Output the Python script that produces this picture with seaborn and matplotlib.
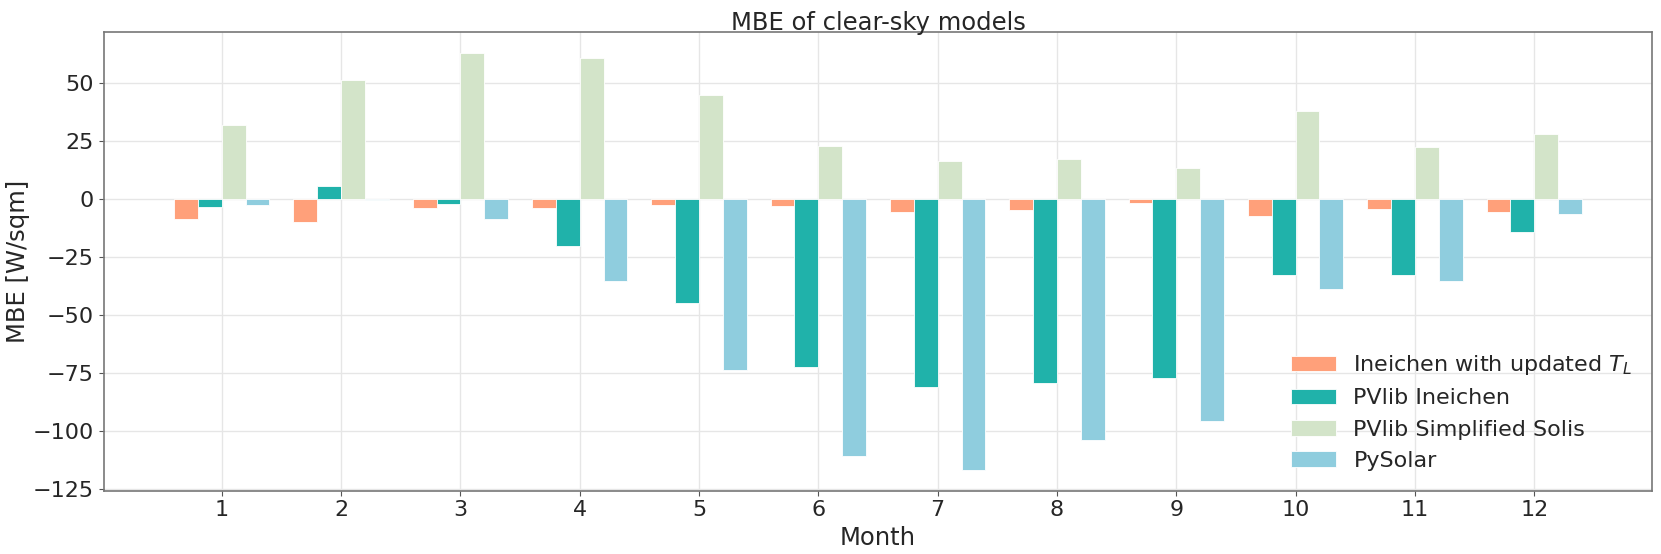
import numpy as np
import pandas as pd
import matplotlib
matplotlib.use("Agg")
import matplotlib.pyplot as plt
import seaborn as sns

months = list(range(1, 13))
ineichen_updated = [-8.6, -9.8, -4.0, -3.7, -2.7, -3.0, -5.5, -4.8, -1.9, -7.2, -4.2, -5.5]
pvlib_ineichen = [-3.5, 5.5, -2.3, -20.2, -44.7, -72.4, -81.3, -79.5, -77.1, -32.6, -32.6, -14.1]
pvlib_solis = [32.1, 51.4, 63.1, 60.8, 44.8, 22.9, 16.4, 17.1, 13.3, 38.2, 22.6, 28.2]
pysolar = [-2.6, -0.2, -8.6, -35.4, -73.8, -110.8, -117.0, -103.9, -96.0, -38.9, -35.4, -6.3]

model_names = [r"Ineichen with updated $T_L$", "PVlib Ineichen",
               "PVlib Simplified Solis", "PySolar"]
colors = ["#FFA07A", "#20B2AA", "#D3E4C9", "#8FCDDE"]

series = [ineichen_updated, pvlib_ineichen, pvlib_solis, pysolar]
rows = []
for name, vals in zip(model_names, series):
    for m, v in zip(months, vals):
        rows.append({"Month": m, "MBE": v, "Model": name})
df = pd.DataFrame(rows)

sns.set_style("white")
plt.rcParams["font.family"] = ["DejaVu Sans"]

fig = plt.figure(figsize=(16.61, 5.54), dpi=100)
ax = fig.add_axes([0.0624, 0.1143, 0.9324, 0.8274])

sns.barplot(data=df, x="Month", y="MBE", hue="Model", hue_order=model_names,
            palette=colors, saturation=1, width=0.8, ax=ax,
            edgecolor="white", linewidth=0.6, errorbar=None)

ax.set_xlim(-0.99, 11.99)
ax.set_ylim(-125.9, 72.0)
ax.set_yticks([-125, -100, -75, -50, -25, 0, 25, 50])
ax.grid(True, color="#e6e6e6", linewidth=1.0)
ax.set_axisbelow(True)

for sp in ax.spines.values():
    sp.set_color("#777777")
    sp.set_linewidth(1.2)
ax.tick_params(axis="both", which="major", labelsize=16, length=3.5,
               color="#555555", left=True, bottom=True)

ax.set_title("MBE of clear-sky models", fontsize=17.5, pad=2)
ax.set_xlabel("Month", fontsize=17.5)
ax.set_ylabel("MBE [W/sqm]", fontsize=17.5, labelpad=2)

ax.legend(loc="lower right", frameon=False, fontsize=16)

fig.savefig("out.png", dpi=100)
